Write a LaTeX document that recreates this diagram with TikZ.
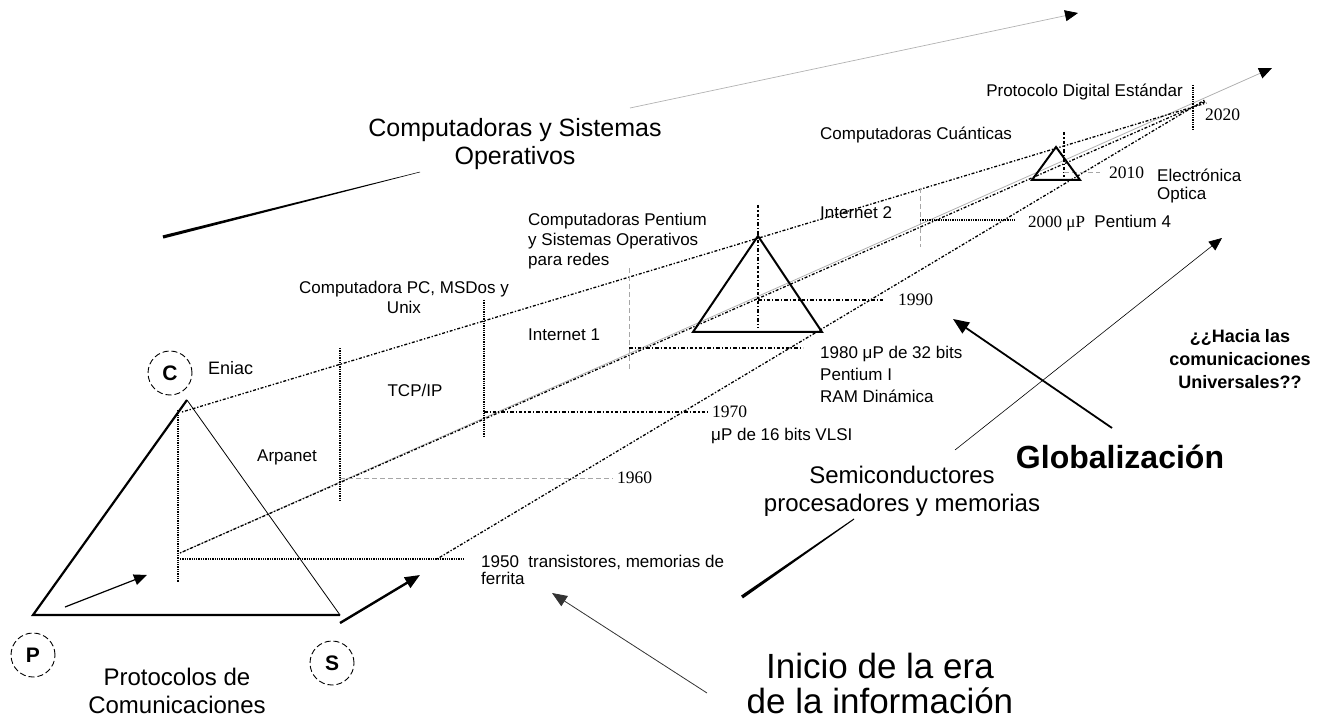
\documentclass[tikz,border=0pt]{standalone}
\usepackage{fontspec}
\setmainfont{Liberation Sans}
\newfontfamily\fuenteanio{Liberation Serif}
\usetikzlibrary{arrows.meta,calc}

\begin{document}
\begin{tikzpicture}[x=1pt, y=-1pt,
  texto/.style={inner sep=0pt, font=\fontsize{17}{20}\selectfont},
  anio/.style={inner sep=0pt, font=\fuenteanio\fontsize{17.5}{20}\selectfont},
  letra/.style={circle, draw, line width=0.9pt, dash pattern=on 6pt off 3pt, minimum size=44pt, inner sep=0pt, font=\bfseries\fontsize{21}{24}\selectfont},
  guia/.style={line width=1.3pt, dash pattern=on 1.3pt off 1.8pt on 3pt off 1.8pt},
  punteado/.style={line width=1.3pt, densely dotted},
  trazopunto/.style={line width=1.2pt, dash pattern=on 3.5pt off 2pt on 1.2pt off 2pt},
  gristrazo/.style={gray!70, line width=0.7pt, dash pattern=on 5pt off 3pt},
  punta/.style={-{Triangle[length=13pt,width=11pt,color=black]}},
]
\useasboundingbox (0,0) rectangle (1328,719);

\coordinate (V) at (1193,107);
\coordinate (C0) at (182,412);
\coordinate (P0) at (180,553);
\coordinate (S0) at (437,559);
\coordinate (Pfin) at (1272,68);
\draw[punta, gray!60, line width=0.8pt] (P0) -- (Pfin);
\draw[guia, shorten >=-14pt] (C0) -- (V);
\draw[guia, shorten >=-14pt] (P0) -- (V);
\draw[guia, shorten >=-14pt] (S0) -- (V);

% 1950
\draw[punteado] (178,410) -- (178,582);
\draw[punteado] (180,559) -- (463,559);
\node[texto, anchor=north west, align=left, font=\fontsize{17}{16.5}\selectfont] (n1950) at (481,555) {1950\ \ transistores, memorias de\\ferrita};
% 1960
\draw[punteado] (340,348) -- (340,500);
\draw[gristrazo] (340,478) -- (613,478);
\node[anio, anchor=west] (n1960) at (617,478) {1960};
% 1970
\draw[punteado] (484,300) -- (484,437);
\draw[trazopunto] (484,412) -- (710,412);
\node[anio, anchor=west] (n1970) at (712,412) {1970};
\node[texto, anchor=west] (vlsi) at (711,436) {μP de 16 bits VLSI};
% 1980
\draw[gristrazo] (629,268) -- (629,370);
\draw[trazopunto] (629,348) -- (803,348);
\node[texto, anchor=north west, align=left, font=\fontsize{17}{22}\selectfont] (n1980) at (820,346) {1980 μP de 32 bits\\Pentium I\\RAM Dinámica};
% 1990
\draw[trazopunto] (758,205) -- (758,327);
\draw[trazopunto] (758,300) -- (883,300);
\node[anio, anchor=west] (n1990) at (898,300) {1990};
% 2000
\draw[gristrazo] (920,188) -- (920,247);
\draw[punteado] (920,220) -- (1015,220);
\node[texto, anchor=west] (n2000) at (1028,223) {{\fuenteanio 2000 μP}\ \ Pentium 4};
% 2010
\draw[trazopunto] (1064,132) -- (1064,177);
\draw[gristrazo] (1064,172) -- (1100,172);
\node[anio, anchor=west] (n2010) at (1109,173) {2010};
\node[texto, anchor=north west, align=left, font=\fontsize{17}{18}\selectfont] (optica) at (1157,169) {Electrónica\\Optica};
% 2020
\draw[punteado] (1193,85) -- (1193,130);
\node[anio, anchor=west] (n2020) at (1205,115) {2020};
\node[texto, anchor=east] (protocolo) at (1183,92) {Protocolo Digital Estándar};

\coordinate (Tc) at (187,400);
\coordinate (Tp) at (33,615);
\coordinate (Ts) at (340,615);
\draw[line width=2.2pt] (Tc) -- (Tp) -- (Ts);
\draw[line width=0.8pt] (Ts) -- (Tc);
\draw[line width=2pt] (758,236) -- (693,332) -- (822,332) -- cycle;
\draw[line width=2pt] (1056,147) -- (1032,180) -- (1080,180) -- cycle;

\node[letra] (C) at (170,373) {C};
\node[letra] (P) at (33,655) {P};
\node[letra] (S) at (332,663) {S};
\node[texto, anchor=west, font=\fontsize{18}{20}\selectfont] (eniac) at (208,368) {Eniac};
\node[align=center, inner sep=0pt, font=\fontsize{24}{28}\selectfont] (protocolos) at (177,691) {Protocolos de\\Comunicaciones};

\node[align=center, inner sep=0pt, font=\fontsize{25}{28}\selectfont] (cso) at (515,144) {Computadoras y Sistemas\\Operativos};
\node[texto, anchor=north west, align=left] (pentium) at (528,213) {Computadoras Pentium\\y Sistemas Operativos\\para redes};
\node[texto, align=center] (pc) at (404,297) {Computadora PC, MSDos y\\Unix};
\node[texto, anchor=west] (internet1) at (528,335) {Internet 1};
\node[texto] (tcpip) at (415,390) {TCP/IP};
\node[texto] (arpanet) at (287,457) {Arpanet};
\node[texto, anchor=west] (internet2) at (820,213) {Internet 2};
\node[texto, anchor=west] (cuanticas) at (820,135) {Computadoras Cuánticas};
\node[align=center, inner sep=0pt, font=\bfseries\fontsize{18}{23}\selectfont] (hacia) at (1240,359) {¿¿Hacia las\\comunicaciones\\Universales??};
\node[inner sep=0pt, font=\bfseries\fontsize{32}{36}\selectfont] (global) at (1120,457) {Globalización};
\node[align=center, inner sep=0pt, font=\fontsize{24}{28}\selectfont] (semi) at (902,491) {Semiconductores\\procesadores y memorias};
\node[align=center, inner sep=0pt, font=\fontsize{35}{35}\selectfont] (inicio) at (880,683) {Inicio de la era\\de la información};

\coordinate (f1a) at (65,607);
\coordinate (f1b) at (147,575);
\draw[punta, line width=1.2pt] (f1a) -- (f1b);
\coordinate (f2a) at (340,623);
\coordinate (f2b) at (420,575);
\draw[-{Triangle[length=15pt,width=12pt]}, line width=2.4pt] (f2a) -- (f2b);

\coordinate (csoA) at (163,237);
\coordinate (csoB) at (420,172);
\fill ($(csoA)!1.6pt!90:(csoB)$) -- ($(csoB)!0.25pt!-90:(csoA)$) -- ($(csoB)!0.25pt!90:(csoA)$) -- ($(csoA)!1.6pt!-90:(csoB)$) -- cycle;
\coordinate (csoC) at (630,108);
\coordinate (csoD) at (1078,13);
\draw[punta, gray!60, line width=0.7pt] (csoC) -- (csoD);

\coordinate (semiA) at (742,597);
\coordinate (semiB) at (854,519);
\fill ($(semiA)!1.7pt!90:(semiB)$) -- ($(semiB)!0.5pt!-90:(semiA)$) -- ($(semiB)!0.5pt!90:(semiA)$) -- ($(semiA)!1.7pt!-90:(semiB)$) -- cycle;
\coordinate (semiC) at (955,450);
\coordinate (semiD) at (1222,238);
\draw[punta, line width=0.6pt] (semiC) -- (semiD);

\coordinate (globA) at (1112,428);
\coordinate (globB) at (953,319);
\draw[-{Triangle[length=16pt,width=13pt]}, line width=1.8pt] (globA) -- (globB);
\coordinate (inicioA) at (707,693);
\coordinate (inicioB) at (552,593);
\draw[-{Triangle[length=15pt,width=12pt]}, black!80, line width=0.8pt] (inicioA) -- (inicioB);
\end{tikzpicture}
\end{document}
